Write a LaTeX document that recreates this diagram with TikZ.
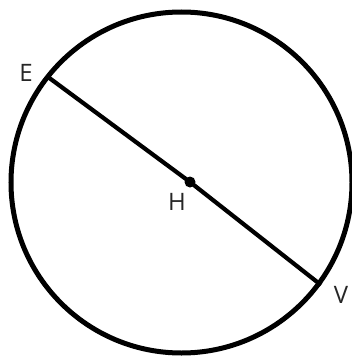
\documentclass[tikz,border=0pt]{standalone}
\usepackage{fontspec}
\setmainfont{Open Sans}
\begin{document}
\begin{tikzpicture}[x=1pt,y=-1pt,
  rim/.style={line width=5pt},
  chord/.style={line width=4.2pt},
  ptdot/.style={circle,fill=black,inner sep=0pt,minimum size=11pt},
  lbl/.style={font=\fontsize{24}{24}\selectfont,text=black!85,inner sep=0pt}]
\useasboundingbox (0,0) rectangle (351,356);
\fill[white] (0,0) rectangle (351,356);
\coordinate (O) at (181.5,182.5);
\draw[rim] (O) circle[radius=170.5];
\coordinate (E) at (48,77);
\coordinate (V) at (321,285);
\node[ptdot] (H) at (190,182) {};
\draw[chord] (E) -- (H.center) -- (V);
\node[lbl] (lE) at (26,73) {E};
\node[lbl] (lH) at (177,202) {H};
\node[lbl] (lV) at (341,295) {V};
\end{tikzpicture}
\end{document}
